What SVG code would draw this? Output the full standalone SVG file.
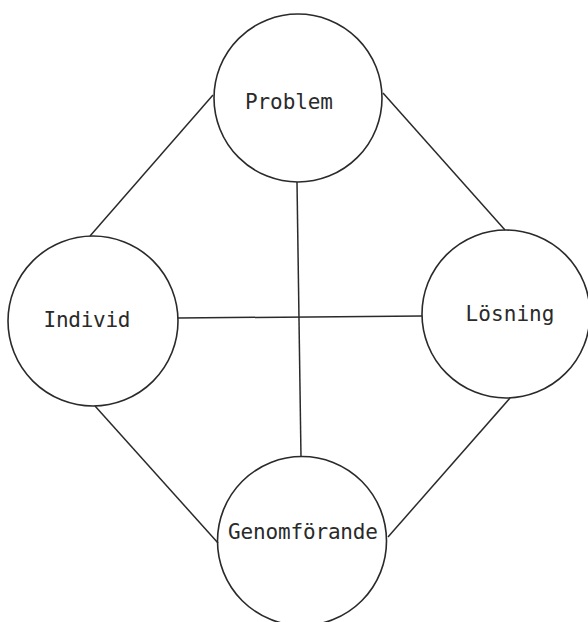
<svg xmlns="http://www.w3.org/2000/svg" width="588" height="622" viewBox="0 0 588 622">
  <style>
    .node { fill: none; stroke: #2a2a2a; stroke-width: 1.6; }
    .edge { stroke: #2a2a2a; stroke-width: 1.5; fill: none; }
    .label { font-family: "DejaVu Sans Mono", "Liberation Mono", monospace; font-size: 21px; fill: #2a2a2a; text-anchor: middle; }
  </style>
  <rect width="588" height="622" fill="#ffffff"/>
  <g id="connectors">
    <line class="edge" x1="213" y1="95" x2="90" y2="236"/>
    <line class="edge" x1="383" y1="93" x2="505" y2="230"/>
    <line class="edge" x1="95" y1="406" x2="218" y2="543"/>
    <line class="edge" x1="510" y1="398" x2="388" y2="537"/>
    <line class="edge" x1="297" y1="182" x2="301" y2="457"/>
    <line class="edge" x1="178" y1="318" x2="422" y2="316"/>
  </g>
  <g id="problem">
    <circle class="node" cx="298" cy="98" r="84"/>
    <text class="label" x="289" y="109" textLength="88">Problem</text>
  </g>
  <g id="individ">
    <circle class="node" cx="93" cy="321" r="85"/>
    <text class="label" x="87" y="327" textLength="87">Individ</text>
  </g>
  <g id="losning">
    <circle class="node" cx="506" cy="314" r="84"/>
    <text class="label" x="510" y="321" textLength="89">Lösning</text>
  </g>
  <g id="genomforande">
    <circle class="node" cx="302" cy="541" r="84.5"/>
    <text class="label" x="303" y="539" textLength="150">Genomförande</text>
  </g>
</svg>
